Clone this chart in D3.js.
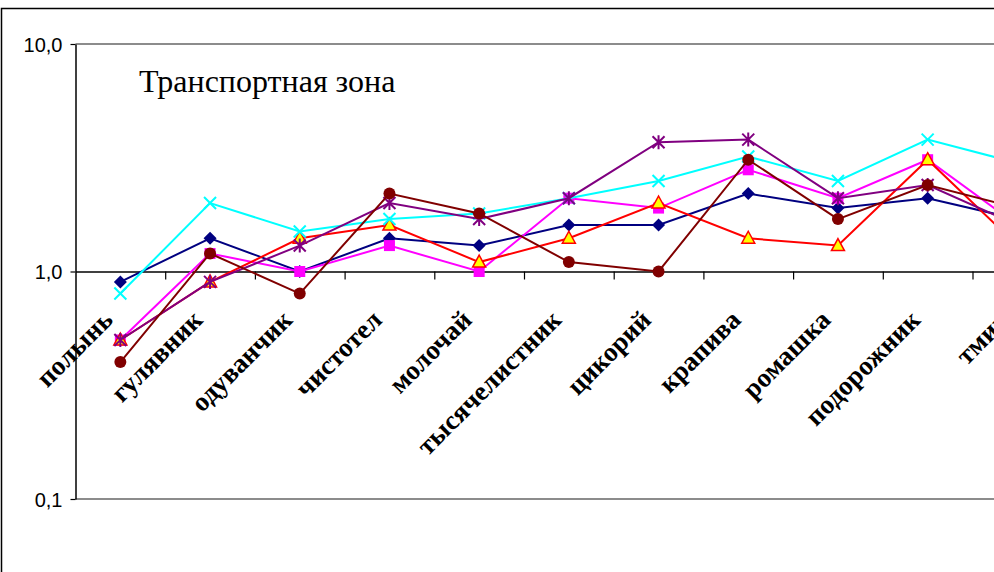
<!DOCTYPE html>
<html>
<head>
<meta charset="utf-8">
<script src="https://cdn.jsdelivr.net/npm/d3@7/dist/d3.min.js"></script>
<style>
  html, body { margin: 0; padding: 0; background: #fff; }
  svg { display: block; }
</style>
</head>
<body>
<svg id="chart" width="994" height="572"></svg>
<script>
// Plant names along the category axis
const categories = ["полынь", "гулявник", "одуванчик", "чистотел", "молочай",
  "тысячелистник", "цикорий", "крапива", "ромашка", "подорожник", "тмин"];

// One array per series, values on a log scale
const seriesNavy    = [0.9, 1.4, 1.0, 1.4, 1.3, 1.6, 1.6, 2.2, 1.9, 2.1, 1.7];
const seriesMagenta = [0.5, 1.2, 1.0, 1.3, 1.0, 2.1, 1.9, 2.8, 2.1, 3.1, 1.6];
const seriesRed     = [0.5, 0.9, 1.4, 1.6, 1.1, 1.4, 2.0, 1.4, 1.3, 3.1, 1.3];
const seriesCyan    = [0.8, 2.0, 1.5, 1.7, 1.8, 2.1, 2.5, 3.2, 2.5, 3.8, 3.0];
const seriesPurple  = [0.5, 0.9, 1.3, 2.0, 1.7, 2.1, 3.7, 3.8, 2.1, 2.4, 1.6];
const seriesMaroon  = [0.4, 1.2, 0.8, 2.2, 1.8, 1.1, 1.0, 3.1, 1.7, 2.4, 1.9];

const yTicks = [0.1, 1, 10];
const title = "Транспортная зона";

const series = [
  { values: seriesNavy,    color: "#000080", marker: "diamond" },
  { values: seriesMagenta, color: "#FF00FF", marker: "square" },
  { values: seriesRed,     color: "#FF0000", marker: "triangle" },
  { values: seriesCyan,    color: "#00FFFF", marker: "cross" },
  { values: seriesPurple,  color: "#800080", marker: "star" },
  { values: seriesMaroon,  color: "#800000", marker: "circle" }
];

const svg = d3.select("#chart");

// Outer chart frame (continues past the right and bottom edges)
svg.append("rect")
  .attr("x", 1.5).attr("y", 8.5)
  .attr("width", 1200).attr("height", 800)
  .attr("fill", "#fff").attr("stroke", "#000").attr("stroke-width", 1.5);

const left = 75.5, step = 89.7;
const x = d3.scaleBand().domain(categories)
  .range([left, left + step * categories.length]).padding(0);
const y = d3.scaleLog().domain([0.1, 10]).range([499, 44]);

// Horizontal gridlines at the decades other than 1
svg.append("g").selectAll("line")
  .data(yTicks.filter(d => d !== 1))
  .join("line")
  .attr("x1", left).attr("x2", 1200)
  .attr("y1", d => y(d)).attr("y2", d => y(d))
  .attr("stroke", "#8c8c8c").attr("stroke-width", 2);

// Value axis
const yAxis = svg.append("g")
  .attr("transform", `translate(${left},0)`)
  .call(d3.axisLeft(y).tickValues(yTicks).tickSize(5).tickSizeOuter(0)
    .tickFormat(d => d3.format(".1f")(d).replace(".", ",")));
yAxis.attr("font-size", null).attr("font-family", null);
yAxis.select(".domain").attr("stroke", "#000").attr("stroke-width", 1.5);
yAxis.selectAll(".tick line").attr("stroke", "#000").attr("stroke-width", 1.2);
yAxis.selectAll(".tick text")
  .attr("x", -13)
  .attr("dy", "0.36em")
  .style("font-family", "'Liberation Sans', Arial, sans-serif")
  .style("font-size", "20px")
  .attr("fill", "#000");

// Category axis crossing at 1,0, ticks between categories
const bounds = d3.scaleLinear().domain([0, categories.length])
  .range([left, left + step * categories.length]);
const xAxis = svg.append("g")
  .attr("transform", `translate(0,${y(1)})`)
  .call(d3.axisBottom(bounds).tickValues(d3.range(1, categories.length + 1))
    .tickSize(8).tickSizeOuter(0).tickFormat(""));
xAxis.select(".domain").attr("stroke", "#000").attr("stroke-width", 1.5);
xAxis.selectAll(".tick line").attr("stroke", "#000").attr("stroke-width", 1.2);

// Rotated category labels
svg.append("g").selectAll("text")
  .data(categories)
  .join("text")
  .attr("transform", d => `translate(${x(d) + x.bandwidth() / 2 - 6},${y(1) + 50}) rotate(-45)`)
  .attr("text-anchor", "end")
  .attr("font-family", "Liberation Serif, Times New Roman, serif")
  .attr("font-weight", "bold")
  .attr("font-size", 27)
  .attr("fill", "#000")
  .text(d => d);

// Chart title inside the plot
svg.append("text")
  .attr("x", 139).attr("y", 92)
  .attr("font-family", "Liberation Serif, Times New Roman, serif")
  .attr("font-size", 32)
  .attr("fill", "#000")
  .text(title);

const cx = (d, i) => x(categories[i]) + x.bandwidth() / 2;
const line = d3.line().x((d, i) => cx(d, i)).y(d => y(d));

function drawMarker(g, type, color) {
  if (type === "diamond") {
    g.append("path").attr("d", "M0,-6.5L6.5,0L0,6.5L-6.5,0Z").attr("fill", color);
  } else if (type === "square") {
    g.append("rect").attr("x", -5.5).attr("y", -5.5).attr("width", 11).attr("height", 11)
      .attr("fill", color);
  } else if (type === "triangle") {
    g.append("path").attr("d", "M0,-7L6.5,5L-6.5,5Z")
      .attr("fill", "#FFFF00").attr("stroke", "#FF0000").attr("stroke-width", 1.5);
  } else if (type === "cross") {
    g.append("path").attr("d", "M-6,-6L6,6M-6,6L6,-6")
      .attr("stroke", color).attr("stroke-width", 2).attr("fill", "none");
  } else if (type === "star") {
    g.append("path").attr("d", "M-6,-6L6,6M-6,6L6,-6M0,-7L0,7")
      .attr("stroke", color).attr("stroke-width", 2).attr("fill", "none");
  } else if (type === "circle") {
    g.append("circle").attr("r", 6).attr("fill", color);
  }
}

series.forEach(s => {
  const g = svg.append("g");
  g.append("path")
    .datum(s.values)
    .attr("d", line)
    .attr("fill", "none")
    .attr("stroke", s.color)
    .attr("stroke-width", 2);
  g.selectAll("g.m")
    .data(s.values)
    .join("g")
    .attr("class", "m")
    .attr("transform", (d, i) => `translate(${cx(d, i)},${y(d)})`)
    .each(function () { drawMarker(d3.select(this), s.marker, s.color); });
});
</script>
</body>
</html>
